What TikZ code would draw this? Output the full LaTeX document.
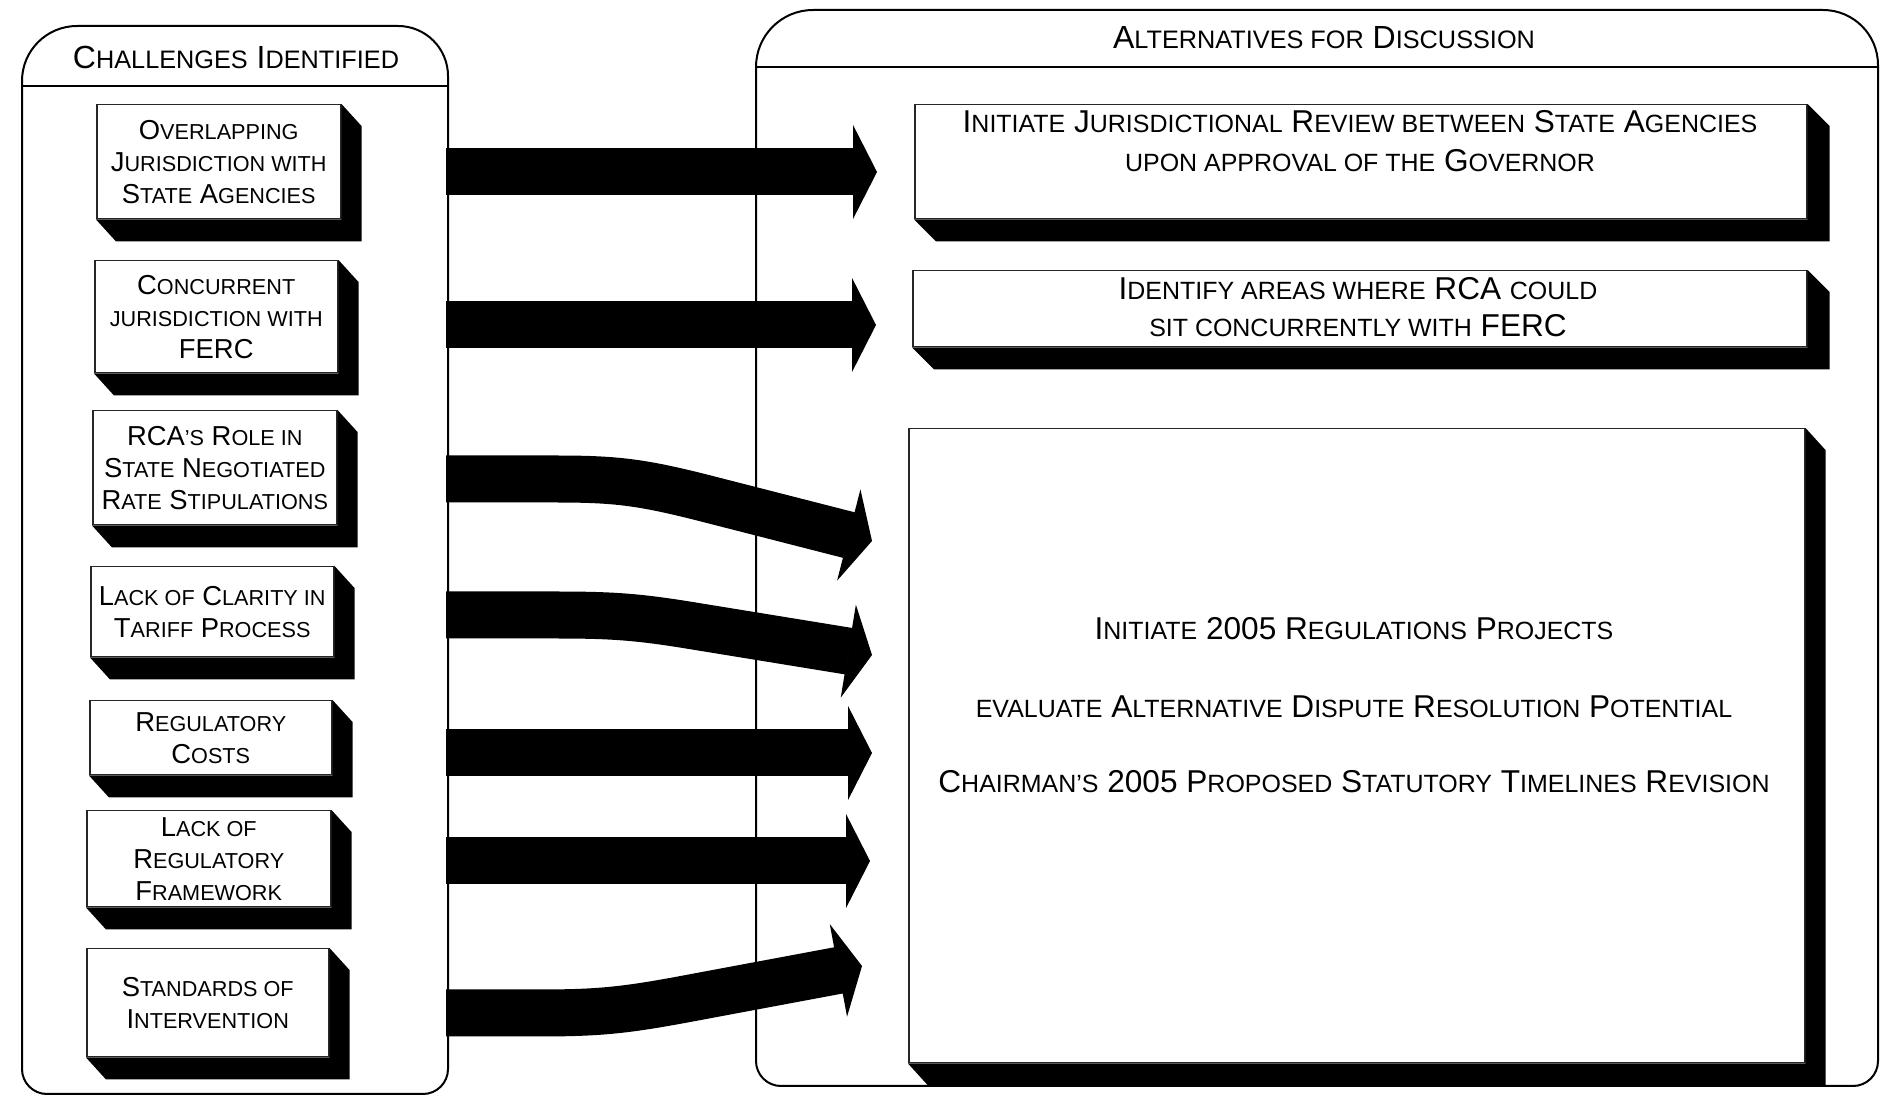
\documentclass[tikz,border=0pt]{standalone}
\usepackage{fontspec}
\setmainfont{Liberation Sans}
\usetikzlibrary{arrows.meta,calc}
\makeatletter
\newcommand\smcp[1]{{\@tempdima=\f@size pt\relax\@tempdima=0.79\@tempdima\edef\smcpsize{\strip@pt\@tempdima}\fontsize{\smcpsize}{\f@baselineskip}\selectfont\MakeUppercase{#1}}}
\makeatother
\newcommand\boxshadow[3]{\fill (#1.north east) -- ++(#2,#3) -- ($(#1.south east)+(#2,#3)$) -- ($(#1.south west)+(#2,#3)$) -- (#1.south west) -- (#1.south east) -- cycle;}
\begin{document}
\begin{tikzpicture}[x=0.5pt,y=-0.5pt,
  panel/.style={draw=black, line width=1pt},
  face/.style={draw=black!85, line width=0.75pt, fill=white, inner sep=0pt, align=center},
  lface/.style={face, font=\fontsize{13.7}{16}\selectfont},
  rtext/.style={inner sep=0pt, align=center, font=\fontsize{15.8}{19.5}\selectfont},
  htext/.style={inner sep=0pt, font=\fontsize{16}{18}\selectfont},
  bigarrow/.style={line width=23.5pt, -{Triangle[length=12pt,width=47pt,line width=0.8pt]}}]
\fill[white] (0,0) rectangle (1881,1095);
\useasboundingbox (0,0) rectangle (1881,1095);

% panels
\draw[panel] (22,81) arc[start angle=180,end angle=270,radius=55] -- (398,26) arc[start angle=270,end angle=360,radius=50] -- (448,1069) arc[start angle=0,end angle=90,radius=25] -- (47,1094) arc[start angle=90,end angle=180,radius=25] -- cycle;
\draw[panel] (22,86) -- (448,86);
\node[htext] (hl) at (236,57) {C\smcp{hallenges} I\smcp{dentified}};

\draw[panel] (756,67) arc[start angle=180,end angle=270,radius=57] -- (1823,10) arc[start angle=270,end angle=360,radius=55] -- (1878,1061) arc[start angle=0,end angle=90,radius=25] -- (781,1086) arc[start angle=90,end angle=180,radius=25] -- cycle;
\draw[panel] (756,67) -- (1878,67);
\node[htext] (hr) at (1324,38) {A\smcp{lternatives for} D\smcp{iscussion}};

% left boxes
\node[lface, anchor=north west, minimum width=122pt, minimum height=57pt] (L1) at (96,104) {O\smcp{verlapping}\\J\smcp{urisdiction with}\\S\smcp{tate} A\smcp{gencies}};
\boxshadow{L1}{20}{22}
\node[lface, anchor=north west, minimum width=121.5pt, minimum height=56pt] (L2) at (94,260) {C\smcp{oncurrent}\\\smcp{jurisdiction with}\\FERC};
\boxshadow{L2}{20}{22}
\node[lface, anchor=north west, minimum width=122pt, minimum height=57pt] (L3) at (92,410) {RCA\smcp{'s} R\smcp{ole in}\\S\smcp{tate} N\smcp{egotiated}\\R\smcp{ate} S\smcp{tipulations}};
\boxshadow{L3}{20}{22}
\node[lface, anchor=north west, minimum width=121.5pt, minimum height=45pt] (L4) at (90,566) {L\smcp{ack of} C\smcp{larity in}\\T\smcp{ariff} P\smcp{rocess}};
\boxshadow{L4}{20}{22}
\node[lface, anchor=north west, minimum width=121pt, minimum height=37pt] (L5) at (89,700) {R\smcp{egulatory}\\C\smcp{osts}};
\boxshadow{L5}{20}{22}
\node[lface, anchor=north west, minimum width=122pt, minimum height=48pt] (L6) at (86,810) {L\smcp{ack of}\\R\smcp{egulatory}\\F\smcp{ramework}};
\boxshadow{L6}{20}{22}
\node[lface, anchor=north west, minimum width=121pt, minimum height=54pt] (L7) at (86,948) {S\smcp{tandards of}\\I\smcp{ntervention}};
\boxshadow{L7}{20}{22}

% right boxes
\node[face, anchor=north west, minimum width=446pt, minimum height=57pt] (R1) at (914,104) {};
\boxshadow{R1}{22}{22}
\node[face, anchor=north west, minimum width=447pt, minimum height=38pt] (R2) at (912,270) {};
\boxshadow{R2}{22}{22}
\node[face, anchor=north west, minimum width=448pt, minimum height=317pt] (R3) at (908,428) {};
\boxshadow{R3}{20}{22}

\node[rtext] (R1t) at (1360,141) {I\smcp{nitiate} J\smcp{urisdictional} R\smcp{eview between} S\smcp{tate} A\smcp{gencies}\\\smcp{upon approval of the} G\smcp{overnor}};
\node[rtext, font=\fontsize{15.8}{18.5}\selectfont] (R2t) at (1358,307) {I\smcp{dentify areas where} RCA \smcp{could}\\\smcp{sit concurrently with} FERC};
\node[rtext] (R3a) at (1354,629) {I\smcp{nitiate} 2005 R\smcp{egulations} P\smcp{rojects}};
\node[rtext] (R3b) at (1354,707) {\smcp{evaluate} A\smcp{lternative} D\smcp{ispute} R\smcp{esolution} P\smcp{otential}};
\node[rtext] (R3c) at (1354,782) {C\smcp{hairman's} 2005 P\smcp{roposed} S\smcp{tatutory} T\smcp{imelines} R\smcp{evision}};

% arrows
\coordinate (A1s) at (446,172); \coordinate (A1e) at (877,172);
\coordinate (A2s) at (446,325); \coordinate (A2e) at (876,325);
\coordinate (A3s) at (446,479); \coordinate (A3e) at (872,541);
\coordinate (A4s) at (446,615); \coordinate (A4e) at (872,655);
\coordinate (A5s) at (446,753); \coordinate (A5e) at (872,753);
\coordinate (A6s) at (446,861); \coordinate (A6e) at (870,861);
\coordinate (A7s) at (446,1013); \coordinate (A7e) at (862,966);
\draw[bigarrow] (A1s) -- (A1e);
\draw[bigarrow] (A2s) -- (A2e);
\draw[bigarrow] (A3s) -- (555,479) .. controls (615,479) and (640,482) .. (700,497) -- (A3e);
\draw[bigarrow] (A4s) -- (555,615) .. controls (615,615) and (640,617) .. (700,627) -- (A4e);
\draw[bigarrow] (A5s) -- (A5e);
\draw[bigarrow] (A6s) -- (A6e);
\draw[bigarrow] (A7s) -- (535,1013) .. controls (595,1013) and (620,1011) .. (680,1000) -- (A7e);
\end{tikzpicture}
\end{document}
